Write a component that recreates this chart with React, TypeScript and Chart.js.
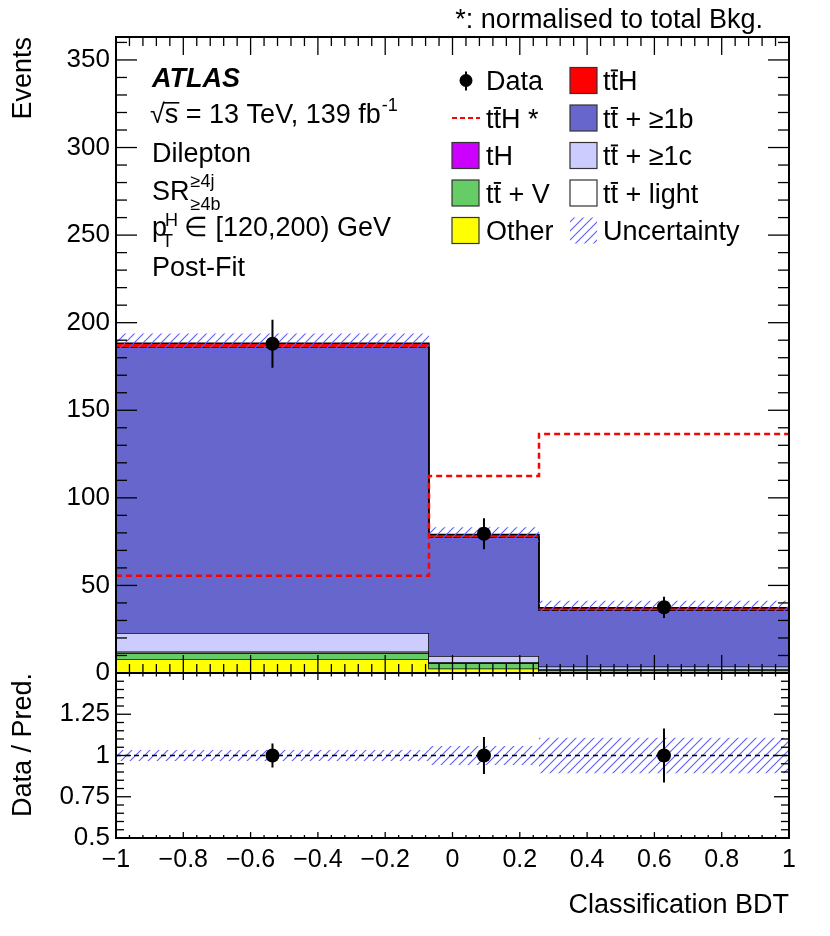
import React, { useEffect, useRef } from 'react';
import { Chart, registerables } from 'chart.js';

Chart.register(...registerables);

const FONT = '"Liberation Sans", Arial, Helvetica, sans-serif';

// Histogram binning of the Classification BDT
const binEdges = [-1, -0.07, 0.257, 1];
const binCenters = [-0.535, 0.0935, 0.6285];

// Post-fit stacked predictions (events per bin), bottom to top
const otherBkg = [8.0, 2.5, 0.6];
const ttVBkg = [3.4, 3.2, 1.2];
const tHBkg = [0.3, 0.2, 0.1];
const ttLightBkg = [0.6, 0.4, 0.2];
const ttCBkg = [10.5, 3.4, 1.6];
const ttBBkg = [163.2, 67.8, 32.1];
const ttHSig = [2.2, 1.6, 1.5];

// ttH normalised to total background (dashed)
const ttHNormalised = [55.5, 112.5, 136.5];

// Data
const dataValues = [188, 79.5, 37.5];
const dataErrors = [13.7, 8.9, 6.1];

// Total uncertainty band
const uncUpper = [193.8, 83.2, 41.2];
const uncLower = [182.5, 75.0, 33.4];

// Ratio panel
const ratioValues = [1.0, 1.0, 1.0];
const ratioErrors = [0.073, 0.112, 0.163];
const ratioUncUpper = [1.033, 1.058, 1.107];
const ratioUncLower = [0.967, 0.942, 0.893];
const ratioReference = [1, 1];

// Tick labels
const xTickValues = [-1, -0.8, -0.6, -0.4, -0.2, 0, 0.2, 0.4, 0.6, 0.8, 1];
const mainYTickValues = [0, 50, 100, 150, 200, 250, 300, 350];
const ratioYTickValues = [0.5, 0.75, 1, 1.25];

const stackLabels = ['Other', 'tt\u0304 + V', 'tH', 'tt\u0304 + light', 'tt\u0304 + \u22651c', 'tt\u0304 + \u22651b', 'tt\u0304H'];
const stackColors = ['#ffff00', '#66cc66', '#cc00ff', '#ffffff', '#ccccff', '#6666cc', '#ff0000'];
const stackValues = [otherBkg, ttVBkg, tHBkg, ttLightBkg, ttCBkg, ttBBkg, ttHSig];

const HATCH_COLOR = '#5d5dff';

function stepPoints(vals: number[]) {
  const pts = vals.map((v, i) => ({ x: binEdges[i], y: v }));
  pts.push({ x: binEdges[binEdges.length - 1], y: vals[vals.length - 1] });
  return pts;
}

function errorBarPoints(vals: number[], errs: number[]) {
  const pts: { x: number; y: number | null }[] = [];
  vals.forEach((v, i) => {
    pts.push({ x: binCenters[i], y: v - errs[i] });
    pts.push({ x: binCenters[i], y: v + errs[i] });
    pts.push({ x: binCenters[i], y: null });
  });
  return pts;
}

function makeHatch(): CanvasPattern | string {
  const c = document.createElement('canvas');
  c.width = 9;
  c.height = 9;
  const g = c.getContext('2d');
  if (!g) return HATCH_COLOR;
  g.strokeStyle = HATCH_COLOR;
  g.lineWidth = 1.1;
  g.beginPath();
  g.moveTo(-1, 10);
  g.lineTo(10, -1);
  g.moveTo(-2, 2);
  g.lineTo(2, -2);
  g.moveTo(7, 11);
  g.lineTo(11, 7);
  g.stroke();
  return g.createPattern(c, 'repeat') || HATCH_COLOR;
}

function drawRich(ctx: CanvasRenderingContext2D, text: string, x: number, y: number, size: number) {
  let cx = x;
  for (let i = 0; i < text.length; i++) {
    const ch = text[i];
    if (ch === '\u0304') continue;
    const w = ctx.measureText(ch).width;
    ctx.fillText(ch, cx, y);
    if (text[i + 1] === '\u0304') {
      ctx.fillRect(cx + 0.3, y - size * 0.76, w - 0.3, Math.max(1.5, size * 0.07));
    }
    cx += w;
  }
  return cx;
}

type LegendItem = { label: string; kind: 'data' | 'dash' | 'box' | 'hatch'; color?: string; col: number; row: number };

const legendItems: LegendItem[] = [
  { label: 'Data', kind: 'data', col: 0, row: 0 },
  { label: 'tt\u0304H *', kind: 'dash', color: '#ff0000', col: 0, row: 1 },
  { label: 'tH', kind: 'box', color: stackColors[2], col: 0, row: 2 },
  { label: 'tt\u0304 + V', kind: 'box', color: stackColors[1], col: 0, row: 3 },
  { label: 'Other', kind: 'box', color: stackColors[0], col: 0, row: 4 },
  { label: 'tt\u0304H', kind: 'box', color: stackColors[6], col: 1, row: 0 },
  { label: 'tt\u0304 + \u22651b', kind: 'box', color: stackColors[5], col: 1, row: 1 },
  { label: 'tt\u0304 + \u22651c', kind: 'box', color: stackColors[4], col: 1, row: 2 },
  { label: 'tt\u0304 + light', kind: 'box', color: stackColors[3], col: 1, row: 3 },
  { label: 'Uncertainty', kind: 'hatch', col: 1, row: 4 },
];

const rootStyle = {
  id: 'rootStyle',
  afterDraw(chart: any) {
    const ctx: CanvasRenderingContext2D = chart.ctx;
    const x = chart.scales.x;
    const y = chart.scales.y;
    const yr = chart.scales.yr;
    const L = x.left;
    const R = x.right;
    const mt = y.top;
    const mb = y.bottom;
    const rt = yr.top;
    const rb = yr.bottom;
    const hatch = chart.$hatch;

    ctx.save();
    ctx.strokeStyle = '#000';
    ctx.lineWidth = 1.3;
    const line = (x1: number, y1: number, x2: number, y2: number) => {
      ctx.beginPath();
      ctx.moveTo(x1, y1);
      ctx.lineTo(x2, y2);
      ctx.stroke();
    };
    // x ticks (major 0.2, minor 0.04)
    for (let i = 0; i <= 50; i++) {
      const v = -1 + i * 0.04;
      const px = x.getPixelForValue(v);
      const major = i % 5 === 0;
      line(px, mt, px, mt + (major ? 18 : 9));
      line(px, mb, px, mb - (major ? 18 : 9));
      line(px, rt, px, rt + (major ? 7 : 3.5));
      line(px, rb, px, rb - (major ? 6 : 3));
    }
    // main y ticks (major 50, minor 10)
    for (let i = 0; i <= 36; i++) {
      const py = y.getPixelForValue(i * 10);
      const len = i % 5 === 0 ? 21 : 11;
      line(L, py, L + len, py);
      line(R, py, R - len, py);
    }
    // ratio y ticks (major 0.25, minor 0.05)
    for (let i = 0; i <= 20; i++) {
      const py = yr.getPixelForValue(0.5 + i * 0.05);
      const len = i % 5 === 0 ? 15 : 8;
      line(L, py, L + len, py);
      line(R, py, R - len, py);
    }
    ctx.lineWidth = 2;
    ctx.strokeRect(L, mt, R - L, mb - mt);
    ctx.strokeRect(L, rt, R - L, rb - rt);

    // Texts
    ctx.fillStyle = '#000';
    ctx.textAlign = 'left';
    ctx.textBaseline = 'alphabetic';
    const f = (s: number, extra = '') => `${extra}${s}px ${FONT}`;

    ctx.font = f(27, 'italic bold ');
    ctx.fillText('ATLAS', 152, 87);

    ctx.font = f(27);
    ctx.fillText('\u221A', 150, 123);
    const sx = 150 + ctx.measureText('\u221A').width;
    ctx.fillText('s', sx, 123);
    const sw = ctx.measureText('s').width;
    ctx.fillRect(sx - 1, 102, sw + 2, 1.6);
    let cx = sx + sw;
    const rest = ' = 13 TeV, 139 fb';
    ctx.fillText(rest, cx, 123);
    cx += ctx.measureText(rest).width;
    ctx.font = f(18);
    ctx.fillText('-1', cx + 1, 111);

    ctx.font = f(27);
    ctx.fillText('Dilepton', 152, 162);
    ctx.fillText('SR', 152, 200);
    const srw = ctx.measureText('SR').width;
    ctx.font = f(18);
    ctx.fillText('\u22654j', 152 + srw + 1, 187);
    ctx.fillText('\u22654b', 152 + srw + 1, 210);

    ctx.font = f(27);
    ctx.fillText('p', 152, 236);
    const pw = ctx.measureText('p').width;
    ctx.font = f(18);
    ctx.fillText('H', 152 + pw - 2, 226);
    ctx.fillText('T', 152 + pw - 5, 247);
    ctx.font = f(27);
    ctx.fillText('\u2208 [120,200) GeV', 184, 236);
    ctx.fillText('Post-Fit', 152, 276);

    ctx.textAlign = 'right';
    ctx.fillText('*: normalised to total Bkg.', 763, 28);
    ctx.textAlign = 'left';

    // Legend
    const rowCenters = [80.5, 118, 155.5, 193, 230.5];
    const boxX = [452, 570];
    const textX = [486, 603];
    ctx.font = f(27);
    legendItems.forEach((it) => {
      const cy = rowCenters[it.row];
      const bx = boxX[it.col];
      if (it.kind === 'box') {
        ctx.fillStyle = it.color || '#fff';
        ctx.fillRect(bx, cy - 13, 27, 26);
        ctx.strokeStyle = '#333';
        ctx.lineWidth = 1.2;
        ctx.strokeRect(bx, cy - 13, 27, 26);
      } else if (it.kind === 'hatch') {
        ctx.fillStyle = hatch || HATCH_COLOR;
        ctx.fillRect(bx, cy - 13, 27, 26);
      } else if (it.kind === 'dash') {
        ctx.strokeStyle = it.color || '#f00';
        ctx.lineWidth = 2;
        ctx.setLineDash([5, 3]);
        line(bx, cy, bx + 28, cy);
        ctx.setLineDash([]);
      } else if (it.kind === 'data') {
        ctx.strokeStyle = '#000';
        ctx.lineWidth = 2;
        line(bx + 14, cy - 9, bx + 14, cy + 10);
        ctx.fillStyle = '#000';
        ctx.beginPath();
        ctx.arc(bx + 14, cy, 6.5, 0, Math.PI * 2);
        ctx.fill();
      }
      ctx.fillStyle = '#000';
      drawRich(ctx, it.label, textX[it.col], cy + 9.5, 27);
    });
    ctx.restore();
  },
};

export default function App() {
  const canvasRef = useRef<HTMLCanvasElement | null>(null);

  useEffect(() => {
    document.body.style.margin = '0';
    const canvas = canvasRef.current;
    if (!canvas) return;
    const hatch = makeHatch();

    const cumulative: number[][] = [];
    let run = [0, 0, 0];
    stackValues.forEach((vals) => {
      run = run.map((r, i) => r + vals[i]);
      cumulative.push(run);
    });

    const stackSets = cumulative.map((cum, k) => ({
      type: 'line' as const,
      label: stackLabels[k],
      data: stepPoints(cum),
      stepped: true,
      borderColor: '#000',
      borderWidth: 1.5,
      backgroundColor: stackColors[k],
      fill: k === 0 ? 'origin' : '-1',
      pointRadius: 0,
      yAxisID: 'y',
      order: 20 - k,
    }));

    const datasets: any[] = [
      ...stackSets,
      {
        type: 'line', label: 'uncLow', data: stepPoints(uncLower), stepped: true,
        borderColor: 'rgba(0,0,0,0)', borderWidth: 0, fill: false, pointRadius: 0, yAxisID: 'y', order: 6,
      },
      {
        type: 'line', label: 'Uncertainty', data: stepPoints(uncUpper), stepped: true,
        borderColor: 'rgba(0,0,0,0)', borderWidth: 0, backgroundColor: hatch, fill: '-1', pointRadius: 0, yAxisID: 'y', order: 6,
      },
      {
        type: 'line', label: 'ttH *', data: stepPoints(ttHNormalised), stepped: true,
        borderColor: '#ff0000', borderWidth: 2.5, borderDash: [6, 4], fill: false, pointRadius: 0, yAxisID: 'y', order: 4,
      },
      {
        type: 'line', label: 'dataErr', data: errorBarPoints(dataValues, dataErrors), spanGaps: false,
        borderColor: '#000', borderWidth: 2, fill: false, pointRadius: 0, yAxisID: 'y', order: 2,
      },
      {
        type: 'line', label: 'Data', data: dataValues.map((v, i) => ({ x: binCenters[i], y: v })), showLine: false,
        pointRadius: 7, pointBackgroundColor: '#000', pointBorderColor: '#000', pointBorderWidth: 0, yAxisID: 'y', order: 1,
      },
      // ratio panel
      {
        type: 'line', label: 'rUncLow', data: stepPoints(ratioUncLower), stepped: true,
        borderColor: 'rgba(0,0,0,0)', borderWidth: 0, fill: false, pointRadius: 0, yAxisID: 'yr', order: 6,
      },
      {
        type: 'line', label: 'rUncHigh', data: stepPoints(ratioUncUpper), stepped: true,
        borderColor: 'rgba(0,0,0,0)', borderWidth: 0, backgroundColor: hatch, fill: '-1', pointRadius: 0, yAxisID: 'yr', order: 6,
      },
      {
        type: 'line', label: 'ref', data: ratioReference.map((v, i) => ({ x: binEdges[i === 0 ? 0 : binEdges.length - 1], y: v })),
        borderColor: '#000', borderWidth: 1.4, borderDash: [5, 4], fill: false, pointRadius: 0, yAxisID: 'yr', order: 4,
      },
      {
        type: 'line', label: 'rErr', data: errorBarPoints(ratioValues, ratioErrors), spanGaps: false,
        borderColor: '#000', borderWidth: 2, fill: false, pointRadius: 0, yAxisID: 'yr', order: 2,
      },
      {
        type: 'line', label: 'rData', data: ratioValues.map((v, i) => ({ x: binCenters[i], y: v })), showLine: false,
        pointRadius: 7, pointBackgroundColor: '#000', pointBorderColor: '#000', pointBorderWidth: 0, yAxisID: 'yr', order: 1,
      },
    ];

    const chart: any = new Chart(canvas, {
      type: 'line',
      data: { datasets },
      options: {
        responsive: false,
        maintainAspectRatio: false,
        animation: false,
        events: [],
        layout: { padding: { top: 37, right: 41, bottom: 0, left: 0 } },
        plugins: { legend: { display: false }, tooltip: { enabled: false } },
        scales: {
          x: {
            type: 'linear',
            min: -1,
            max: 1,
            afterBuildTicks: (s: any) => { s.ticks = xTickValues.map((v) => ({ value: v })); },
            afterFit: (s: any) => { s.height = 98; },
            ticks: {
              autoSkip: false,
              maxRotation: 0,
              minRotation: 0,
              padding: 7,
              color: '#000',
              font: { family: FONT, size: 25 },
              callback: (v: any) => (v < 0 ? '\u2212' + String(Math.abs(v)) : String(v)),
            },
            grid: { display: false, drawTicks: false },
            border: { display: false },
            title: {
              display: true, text: 'Classification BDT', align: 'end', color: '#000',
              font: { family: FONT, size: 27 }, padding: { top: 0, bottom: 14 },
            },
          },
          y: {
            type: 'linear',
            position: 'left',
            stack: 'panels',
            stackWeight: 636,
            weight: 2,
            min: 0,
            max: 363.1,
            afterBuildTicks: (s: any) => { s.ticks = mainYTickValues.map((v) => ({ value: v })); },
            afterFit: (s: any) => { s.width = 116; },
            ticks: { autoSkip: false, padding: 6, color: '#000', font: { family: FONT, size: 26 }, callback: (v: any) => String(v) },
            grid: { display: false, drawTicks: false },
            border: { display: false },
            title: {
              display: true, text: 'Events', align: 'end', color: '#000',
              font: { family: FONT, size: 27 }, padding: { top: 7, bottom: 0 },
            },
          },
          yr: {
            type: 'linear',
            position: 'left',
            stack: 'panels',
            stackWeight: 165,
            weight: 1,
            min: 0.5,
            max: 1.5,
            afterBuildTicks: (s: any) => { s.ticks = ratioYTickValues.map((v) => ({ value: v })); },
            afterFit: (s: any) => { s.width = 116; },
            ticks: { autoSkip: false, padding: 6, color: '#000', font: { family: FONT, size: 26 }, callback: (v: any) => String(v) },
            grid: { display: false, drawTicks: false },
            border: { display: false },
            title: {
              display: true, text: 'Data / Pred.', align: 'end', color: '#000',
              font: { family: FONT, size: 27 }, padding: { top: 7, bottom: 0 },
            },
          },
        },
      } as any,
      plugins: [rootStyle as any],
    });
    chart.$hatch = hatch;
    chart.draw();

    return () => chart.destroy();
  }, []);

  return (
    <div style={{ position: 'absolute', left: 0, top: 0, width: 830, height: 936, background: '#fff' }}>
      <canvas ref={canvasRef} width={830} height={936} style={{ display: 'block', width: 830, height: 936 }} />
    </div>
  );
}
